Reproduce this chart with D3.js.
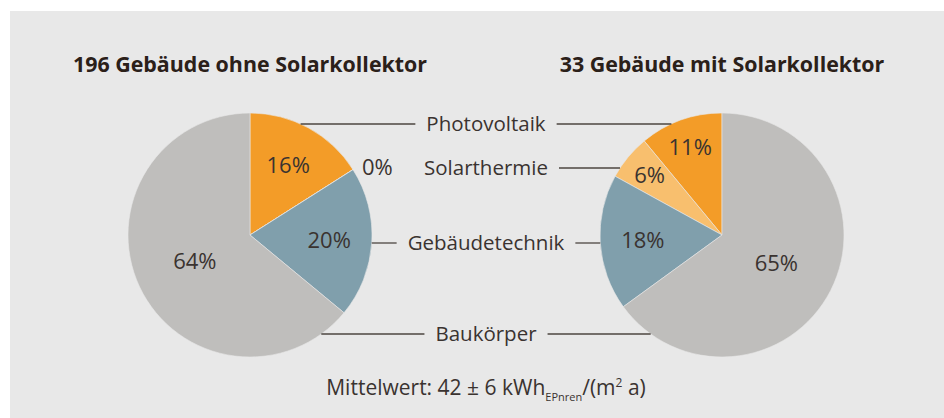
<!DOCTYPE html>
<html>
<head>
<meta charset="utf-8">
<script src="https://cdn.jsdelivr.net/npm/d3@7"></script>
<style>
  body { margin: 0; background: #fff; }
  svg text { font-family: "Open Sans", sans-serif; }
</style>
</head>
<body>
<script>
// Categories and shares per group
const categories = ["Photovoltaik", "Solarthermie", "Gebäudetechnik", "Baukörper"];
const colors = ["#f39c28", "#f8bf6e", "#809fac", "#bfbebc"];
const titles = ["196 Gebäude ohne Solarkollektor", "33 Gebäude mit Solarkollektor"];
const ohneValues = [16, 0, 20, 64];
const mitValues = [11, 6, 18, 65];
const footnote = { main: "Mittelwert: 42 ± 6 kWh", sub: "EPnren", tail: "/(m", sup: "2", end: " a)" };

const width = 944, height = 418;
const r = 122;
const textColor = "#3a3330";
const lineColor = "#4d4641";
const midX = 486;
const gap = 11;
const labelY = [124, 168, 243, 334];

const svg = d3.select("body").append("svg")
  .attr("width", width)
  .attr("height", height);

svg.append("rect")
  .attr("x", 10).attr("y", 11)
  .attr("width", width - 10).attr("height", height - 11)
  .attr("fill", "#e8e8e8");

const pies = [
  { values: ohneValues, cx: 250, cy: 235, dir: 1, title: titles[0] },
  { values: mitValues, cx: 722, cy: 235, dir: -1, title: titles[1] }
];

const arc = d3.arc().innerRadius(0).outerRadius(r);

// x of pie edge facing the middle at a given y
function edgeX(p, y) {
  const dy = y - p.cy;
  const dx = Math.sqrt(r * r - dy * dy);
  return p.dir === 1 ? p.cx + dx : p.cx - dx;
}

pies.forEach(p => {
  const pie = d3.pie().sort(null)
    .startAngle(0).endAngle(p.dir * 2 * Math.PI)
    .value(d => d);
  const arcs = pie(p.values);

  const g = svg.append("g").attr("transform", `translate(${p.cx},${p.cy})`);

  g.selectAll("path")
    .data(arcs)
    .enter()
    .append("path")
    .attr("d", arc)
    .attr("fill", (d, i) => colors[i])
    .attr("stroke", "#e8e8e8")
    .attr("stroke-width", 0.6);

  // percentage labels inside the slices
  g.selectAll("text.pct")
    .data(arcs.filter(d => d.value > 0))
    .enter()
    .append("text")
    .attr("class", "pct")
    .attr("text-anchor", "middle")
    .attr("dy", "0.36em")
    .attr("font-size", 22)
    .attr("fill", textColor)
    .attr("transform", d => {
      const share = d.value / 100;
      const lr = share < 0.15 ? r * 0.77 : share < 0.5 ? r * 0.65 : r * 0.5;
      const a = (d.startAngle + d.endAngle) / 2;
      return `translate(${lr * Math.sin(a)},${-lr * Math.cos(a)})`;
    })
    .text(d => d.value + "%");

  // empty slices: label sits outside, on the category row
  arcs.forEach((d, i) => {
    if (d.value > 0) return;
    const y = labelY[i];
    svg.append("text")
      .attr("x", edgeX(p, y) + p.dir * (gap - 1))
      .attr("y", y)
      .attr("dy", "0.33em")
      .attr("text-anchor", p.dir === 1 ? "start" : "end")
      .attr("font-size", 22)
      .attr("fill", textColor)
      .text(d.value + "%");
  });

  svg.append("text")
    .attr("x", p.cx)
    .attr("y", 72)
    .attr("text-anchor", "middle")
    .attr("font-size", 21.4)
    .attr("font-weight", "bold")
    .attr("fill", "#2b2019")
    .text(p.title);
});

// category labels in the middle with leader lines to both pies
categories.forEach((c, i) => {
  const t = svg.append("text")
    .attr("x", midX)
    .attr("y", labelY[i])
    .attr("dy", "0.33em")
    .attr("text-anchor", "middle")
    .attr("font-size", 20.5)
    .attr("fill", textColor)
    .text(c);
  const w = t.node().getComputedTextLength();
  const y = labelY[i];
  pies.forEach(p => {
    if (p.values[i] === 0) return;
    const inner = p.dir === 1 ? midX - w / 2 - gap : midX + w / 2 + gap;
    svg.append("line")
      .attr("x1", edgeX(p, y)).attr("x2", inner)
      .attr("y1", y).attr("y2", y)
      .attr("stroke", lineColor)
      .attr("stroke-width", 1.3);
  });
});

// footnote
const fn = svg.append("text")
  .attr("x", midX)
  .attr("y", 395)
  .attr("text-anchor", "middle")
  .attr("font-size", 21)
  .attr("fill", textColor);
fn.append("tspan").text(footnote.main);
fn.append("tspan").attr("font-size", 11).attr("dy", 6).text(footnote.sub);
fn.append("tspan").attr("dy", -6).text(footnote.tail);
fn.append("tspan").attr("font-size", 12).attr("dy", -8).text(footnote.sup);
fn.append("tspan").attr("dy", 8).text(footnote.end);
</script>
</body>
</html>
